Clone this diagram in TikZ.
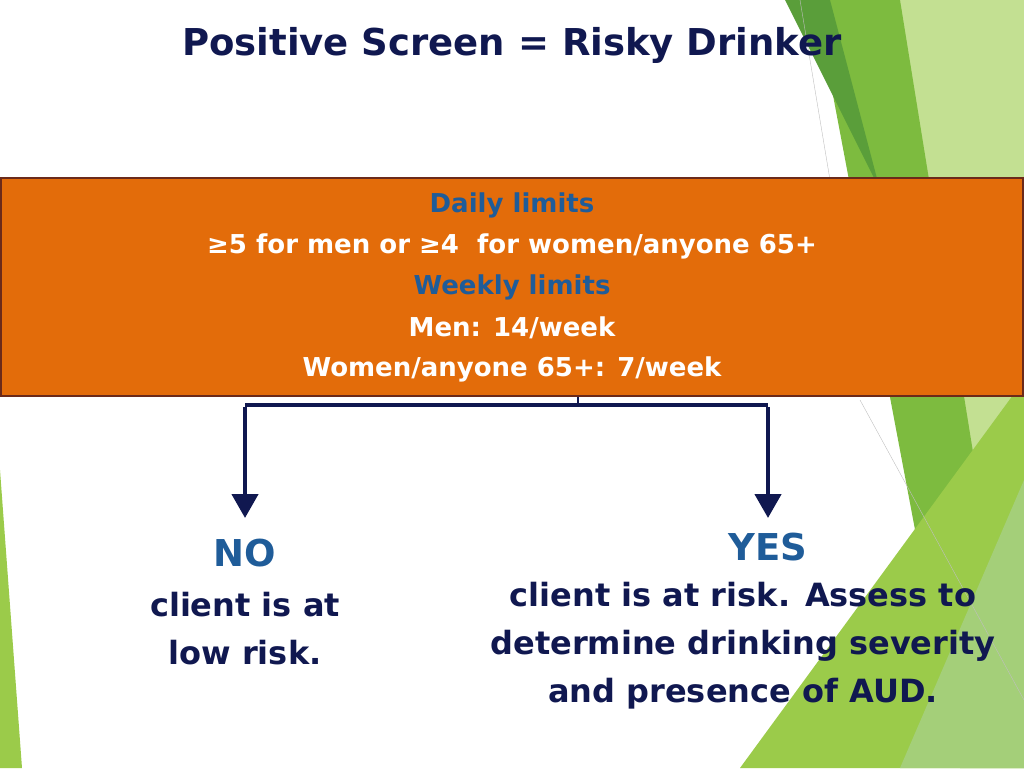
\documentclass[tikz,border=0pt]{standalone}
\usepackage{fontspec}
\setmainfont{DejaVu Sans}
\usetikzlibrary{arrows.meta,positioning}
\definecolor{navy}{HTML}{101850}
\definecolor{limblue}{HTML}{1F5C99}
\definecolor{boxorange}{HTML}{E36C0A}
\definecolor{boxedge}{HTML}{6B2A1A}
\definecolor{lgreen}{HTML}{9BCB4A}
\definecolor{dgreen}{HTML}{5A9E3A}
\definecolor{mgreen}{HTML}{7DBB3F}
\tikzset{
  boxtext/.style={font=\bfseries\fontsize{26}{30}\selectfont, text=white, align=center},
  answer/.style={font=\bfseries\fontsize{32}{48}\selectfont, text=navy, align=center},
  flow/.style={draw=navy, line width=4.5pt, -{Triangle[length=24pt,width=26pt]}}
}
\begin{document}
\begin{tikzpicture}[x=1pt,y=-1pt]
\useasboundingbox (0,0) rectangle (1024,768);
% background decoration
\fill[lgreen!60] (900,0) -- (1024,0) -- (1024,768) -- (900,300) -- cycle;
\fill[mgreen] (815,0) -- (900,0) -- (1024,768) -- (960,768) -- cycle;
\fill[dgreen] (785,0) -- (830,0) -- (880,190) -- cycle;
\fill[lgreen] (1024,380) -- (1024,768) -- (740,768) -- cycle;
\fill[mgreen!70] (1024,480) -- (1024,768) -- (900,768) -- cycle;
\fill[lgreen] (0,470) -- (22,768) -- (0,768) -- cycle;
\draw[gray!50] (800,0) -- (830,180);
\draw[gray!50] (860,400) -- (1024,700);
% title
\node[text=navy, font=\bfseries\fontsize{37}{40}\selectfont] (title) at (512,45) {Positive Screen = Risky Drinker};
% criteria box
\node[fill=boxorange, draw=boxedge, line width=2pt, minimum width=1022pt, minimum height=218pt, inner sep=0pt] (crit) at (512,287) {};
\node[boxtext, text=limblue] (daily) at (512,205) {Daily limits};
\node[boxtext] (dailyval) at (512,246) {≥5 for men or ≥4\ \ for women/anyone 65+};
\node[boxtext, text=limblue] (weekly) at (512,287) {Weekly limits};
\node[boxtext] (men) at (512,328) {Men: 14/week};
\node[boxtext] (women) at (512,369) {Women/anyone 65+: 7/week};
% branches
\coordinate (split) at (578,405);
\coordinate (lcorner) at (245,405);
\coordinate (rcorner) at (768,405);
\coordinate (lend) at (245,518);
\coordinate (rend) at (768,518);
\draw[navy, line width=4.5pt] (lcorner) -- (rcorner);
\draw[navy, line width=2pt] (crit.south -| split) -- (split);
\draw[flow] ([yshift=-2.25pt]lcorner) -- (lend);
\draw[flow] ([yshift=-2.25pt]rcorner) -- (rend);
% answers
\node[answer, text=limblue, font=\bfseries\fontsize{37}{40}\selectfont] (no) at (245,553) {NO};
\node[answer] (notext) at (245,629) {client is at\\low risk.};
\node[answer, text=limblue, font=\bfseries\fontsize{37}{40}\selectfont] (yes) at (768,547) {YES};
\node[answer] (yestext) at (743,646) {client is at risk. Assess to\\determine drinking severity\\and presence of AUD.};
\end{tikzpicture}
\end{document}
